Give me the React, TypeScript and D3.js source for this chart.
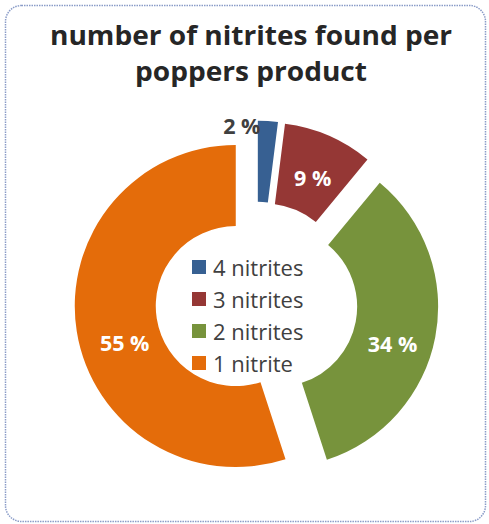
import React from "react";
import * as d3 from "d3";

const categories = ["4 nitrites", "3 nitrites", "2 nitrites", "1 nitrite"];
const values = [2, 9, 34, 55];
const colors = ["#376092", "#953735", "#77933C", "#E46C0A"];
const labelColors = ["#404040", "#ffffff", "#ffffff", "#ffffff"];
const labelOffsets: [number, number][] = [[-16, -156], [0, 5], [-3, 14], [8, 18]];
const titleLines = ["number of nitrites found per", "poppers product"];

const W = 489, H = 524;
const cx = 256.5, cy = 302.8;
const rInner = 80, rOuter = 161, explode = 21;
const font = "'Open Sans', 'DejaVu Sans', sans-serif";

export default function App() {
  const pie = d3.pie<number>().sort(null).value((v) => v).startAngle(0).endAngle(2 * Math.PI);
  const arcs = pie(values);
  const arc = d3.arc<d3.PieArcDatum<number>>().innerRadius(rInner).outerRadius(rOuter);

  return (
    <svg width={W} height={H} style={{ position: "absolute", left: 0, top: 0 }} fontFamily={font}>
      <rect x={5.5} y={5.5} width={480} height={516} rx={16} ry={16} fill="#fff"
        stroke="#8A9CC8" strokeWidth={1.5} strokeDasharray="1.5 1" />
      {titleLines.map((t, i) => (
        <g key={i} transform={`translate(251, ${45 + i * 36}) scale(1.08, 1)`}>
          <text x={0} y={0} textAnchor="middle" fontSize={26} fontWeight="bold" fill="#262626">{t}</text>
        </g>
      ))}
      {arcs.map((a, i) => {
        const mid = (a.startAngle + a.endAngle) / 2;
        const dx = Math.sin(mid) * explode, dy = -Math.cos(mid) * explode;
        const ox = cx + dx, oy = cy + dy;
        const [lx, ly] = arc.centroid(a);
        const isOutside = i === 0;
        const tx = isOutside ? ox + labelOffsets[i][0] : ox + lx + labelOffsets[i][0];
        const ty = isOutside ? oy + labelOffsets[i][1] : oy + ly + labelOffsets[i][1];
        return (
          <g key={i}>
            <path d={arc(a) || ""} transform={`translate(${ox},${oy})`} fill={colors[i]} />
            <text x={tx} y={ty} textAnchor="middle" dominantBaseline="central" fontSize={21.5} fontWeight="bold"
              fill={labelColors[i]}>{`${values[i]} %`}</text>
          </g>
        );
      })}
      {categories.map((c, i) => (
        <g key={c} transform={`translate(192, ${267 + i * 32})`}>
          <rect x={0} y={-7} width={14} height={14} fill={colors[i]} />
          <text x={21} y={0} dominantBaseline="central" fontSize={22} fill="#404040">{c}</text>
        </g>
      ))}
    </svg>
  );
}
